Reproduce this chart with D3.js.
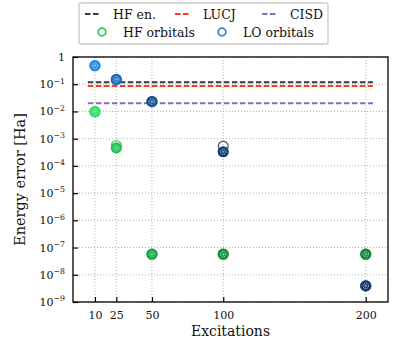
<!DOCTYPE html>
<html><head><meta charset="utf-8">
<script src="https://cdn.jsdelivr.net/npm/d3@7"></script>
<style>body{margin:0;background:#fff}svg{display:block}text{font-family:"DejaVu Serif",serif;fill:#111}</style>
</head><body>
<svg id="c" width="408" height="348"></svg>
<script>
const excitations = [10, 25, 50, 100, 200];
const hfErr    = [9.8e-3, 4.6e-4, 5.7e-8, 5.7e-8, 5.7e-8];
const hfErrAlt = [9.8e-3, 5.6e-4, 5.7e-8, 5.7e-8, 5.7e-8];
const loErr    = [0.48, 0.15, 0.023, 3.3e-4, 3.9e-9];
const loErrAlt = [0.48, 0.15, 0.023, 5.3e-4, 3.9e-9];
const hfColors = ["#2fe063", "#1ec252", "#17a846", "#188f3d", "#17883b"];
const loColors = ["#2a8ce6", "#1f6cb8", "#19508e", "#153f70", "#153b68"];
const refNames = ["HF en.", "LUCJ", "CISD"];
const refValues = [0.117, 0.086, 0.02];
const refColors = ["#3a3a3a", "#ff3b1f", "#9068b8"];
const refSpan = [5, 205];
const xTicks = [10, 25, 50, 100, 200];
const yExp = [0, -1, -2, -3, -4, -5, -6, -7, -8, -9];

const svg = d3.select("#c");
const L = 73, R = 388, T = 57, B = 302;
const x = d3.scaleLinear().domain([-5.4, 215.6]).range([L, R]);
const y = d3.scaleLog().domain([1e-9, 1]).range([B, T]);

// grid
const g = svg.append("g");
g.selectAll(".gx").data(xTicks).join("line")
  .attr("x1", d => x(d)).attr("x2", d => x(d)).attr("y1", T).attr("y2", B)
  .attr("stroke", "#b0b0b0").attr("stroke-width", 1).attr("stroke-dasharray", "1,2");
g.selectAll(".gy").data(yExp).join("line")
  .attr("x1", L).attr("x2", R).attr("y1", d => y(Math.pow(10, d))).attr("y2", d => y(Math.pow(10, d)))
  .attr("stroke", "#b0b0b0").attr("stroke-width", 1).attr("stroke-dasharray", "1,2");

// reference lines
svg.append("g").selectAll("line").data(refValues).join("line")
  .attr("x1", x(refSpan[0])).attr("x2", x(refSpan[1]))
  .attr("y1", d => y(d)).attr("y2", d => y(d))
  .attr("stroke", (d, i) => refColors[i]).attr("stroke-width", 2).attr("stroke-dasharray", "5.5,2.5");

// markers
function marker(sel, cx, cy, col, filled) {
  const m = sel.append("g").attr("transform", `translate(${cx},${cy})`);
  if (filled) {
    m.append("circle").attr("r", 4.9).attr("fill", col).attr("stroke", col).attr("stroke-width", 1.4);
    m.append("circle").attr("r", 2.8).attr("fill", "none").attr("stroke", "#fff").attr("stroke-width", 0.7).attr("stroke-dasharray", "1.2,1").attr("opacity", 0.85);
    m.append("path").attr("d", "M-1.6,0H1.6M0,-1.6V1.6").attr("stroke", "#fff").attr("stroke-width", 0.6).attr("opacity", 0.7);
  } else {
    m.append("circle").attr("r", 4.9).attr("fill", "none").attr("stroke", col).attr("stroke-width", 1.4).attr("opacity", 0.8);
  }
}
const mk = svg.append("g");
excitations.forEach((e, i) => {
  marker(mk, x(e), y(hfErrAlt[i]), hfColors[i], false);
  marker(mk, x(e), y(hfErr[i]), hfColors[i], true);
  marker(mk, x(e), y(loErrAlt[i]), loColors[i], false);
  marker(mk, x(e), y(loErr[i]), loColors[i], true);
});

// axes
const ax = svg.append("g").attr("transform", `translate(0,${B})`)
  .call(d3.axisBottom(x).tickValues(xTicks).tickSize(-5).tickPadding(9).tickFormat(d3.format("d")));
ax.select(".domain").remove();
ax.selectAll(".tick line").attr("stroke", "#000").attr("stroke-width", 1.2);
ax.selectAll("text").attr("font-size", 11).attr("font-family", "DejaVu Serif").attr("fill", "#111");

const ay = svg.append("g").attr("transform", `translate(${L},0)`)
  .call(d3.axisLeft(y).tickValues(yExp.map(e => Math.pow(10, e))).tickSize(-5).tickPadding(8).tickFormat(""));
ay.select(".domain").remove();
ay.selectAll(".tick line").attr("stroke", "#000").attr("stroke-width", 1.2);
ay.selectAll(".tick").each(function(d, i) {
  const t = d3.select(this).append("text").attr("x", -8).attr("dy", "0.32em")
    .attr("text-anchor", "end").attr("font-size", 11);
  const e = yExp[i];
  if (e === 0) { t.text("1"); }
  else {
    t.append("tspan").text("10");
    t.append("tspan").attr("font-size", 7.8).attr("dy", "-0.6em").text("\u2212" + (-e));
  }
});

// frame
svg.append("rect").attr("x", L).attr("y", T).attr("width", R - L).attr("height", B - T)
  .attr("fill", "none").attr("stroke", "#000").attr("stroke-width", 1.3);

// labels
svg.append("text").attr("x", (L + R) / 2).attr("y", 336).attr("text-anchor", "middle")
  .attr("font-size", 14).text("Excitations");
svg.append("text").attr("transform", `translate(25,${(T + B) / 2}) rotate(-90)`).attr("text-anchor", "middle")
  .attr("font-size", 14.5).text("Energy error [Ha]");

// legend
const lg = svg.append("g");
lg.append("rect").attr("x", 79).attr("y", 3).attr("width", 249).attr("height", 41).attr("rx", 2)
  .attr("fill", "#fff").attr("stroke", "#cccccc").attr("stroke-width", 1.4);
const row1 = [85, 175, 262];
refNames.forEach((n, i) => {
  lg.append("line").attr("x1", row1[i]).attr("x2", row1[i] + 16).attr("y1", 14).attr("y2", 14)
    .attr("stroke", refColors[i]).attr("stroke-width", 2).attr("stroke-dasharray", "5.5,2.5");
  lg.append("text").attr("x", row1[i] + 28).attr("y", 18.5).attr("font-size", 12.5).text(n);
});
const row2 = [{ x: 102, c: "#2fcc55", n: "HF orbitals" }, { x: 222, c: "#3a80c0", n: "LO orbitals" }];
row2.forEach(r => {
  lg.append("circle").attr("cx", r.x).attr("cy", 32).attr("r", 3.8).attr("fill", "none")
    .attr("stroke", r.c).attr("stroke-width", 1.8);
  lg.append("text").attr("x", r.x + 21).attr("y", 36.5).attr("font-size", 12.5).text(r.n);
});
</script>
</body></html>
